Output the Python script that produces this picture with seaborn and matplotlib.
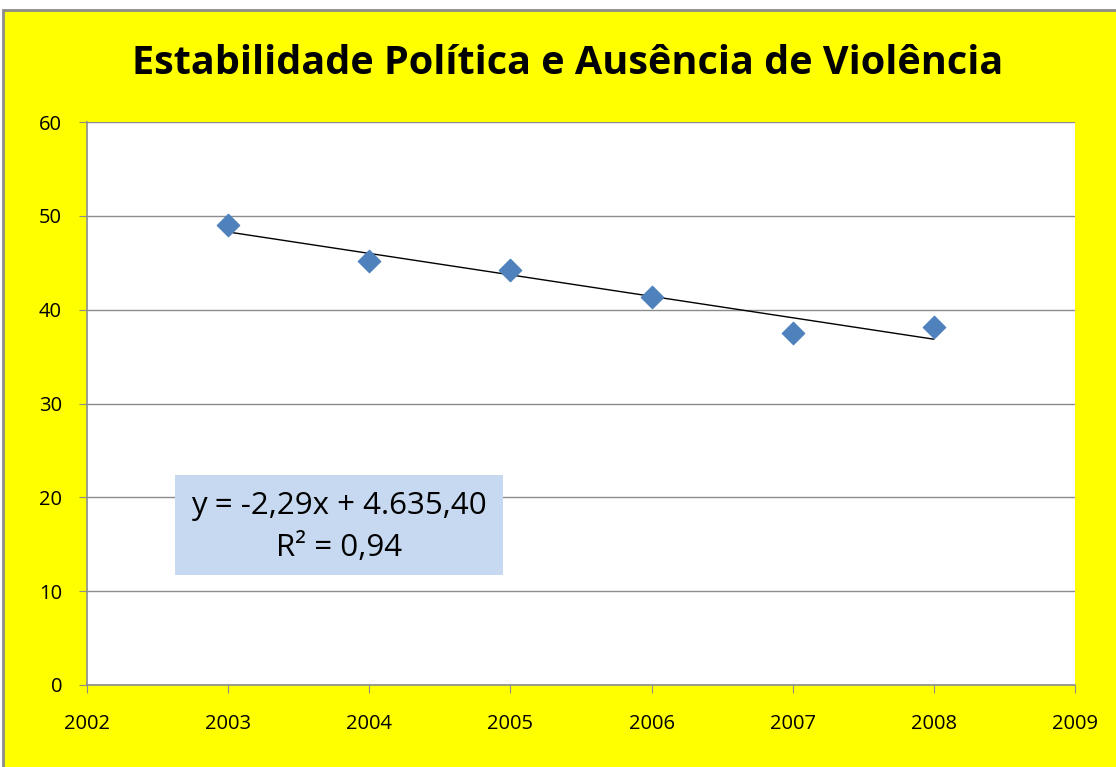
import matplotlib
matplotlib.use("Agg")
import matplotlib.pyplot as plt
import matplotlib.patches as mpatches
import pandas as pd
import seaborn as sns

years = [2003, 2004, 2005, 2006, 2007, 2008]
values = [49.0, 45.2, 44.2, 41.3, 37.5, 38.2]
title = "Estabilidade Política e Ausência de Violência"
eq_line1 = "y = -2,29x + 4.635,40"
eq_line2 = "R² = 0,94"

df = pd.DataFrame({"ano": years, "valor": values})

sns.set_style("white")
plt.rcParams["font.family"] = ["Open Sans", "DejaVu Sans"]
plt.rcParams["text.color"] = "black"
plt.rcParams["xtick.color"] = "black"
plt.rcParams["ytick.color"] = "black"

fig = plt.figure(figsize=(11.16, 7.67), dpi=100)
fig.patch.set_facecolor("white")

# yellow chart area with grey frame (cut at right and bottom like the source)
fig.patches.append(mpatches.Rectangle(
    (3 / 1116, -0.02), 1.2, 1.02 - 10 / 767,
    transform=fig.transFigure, facecolor="#FFFF00",
    edgecolor="#8C8C8C", linewidth=2, zorder=-10
))

ax = fig.add_axes([87 / 1116, 1 - 685 / 767, 988 / 1116, 563 / 767])
ax.set_zorder(1)
ax.set_facecolor("white")

sns.regplot(
    x="ano", y="valor", data=df, ax=ax, scatter=False, ci=None,
    truncate=True, line_kws={"color": "black", "linewidth": 1.0, "zorder": 2}
)
sns.scatterplot(
    x="ano", y="valor", data=df, ax=ax, marker="D", s=130,
    color="#4F81BD", edgecolor="#4F81BD", zorder=3
)

ax.set_xlim(2002, 2009)
ax.set_ylim(0, 60)
ax.set_xticks(range(2002, 2010))
ax.set_yticks(range(0, 61, 10))
ax.set_xlabel("")
ax.set_ylabel("")
ax.yaxis.grid(True, color="#8C8C8C", linewidth=1)
ax.set_axisbelow(True)
for s in ["top", "right"]:
    ax.spines[s].set_visible(False)
for s in ["left", "bottom"]:
    ax.spines[s].set_color("#8C8C8C")
    ax.spines[s].set_linewidth(1.2)
ax.tick_params(axis="x", direction="out", length=6, color="#8C8C8C",
               labelcolor="black", labelsize=14.5, pad=15)
ax.tick_params(axis="y", direction="out", length=6, color="#8C8C8C",
               labelcolor="black", labelsize=14.5, pad=12)
ax.tick_params(left=True, bottom=True)

# equation box
ax.add_patch(mpatches.Rectangle(
    (0.089, 0.195), 0.332, 0.178, transform=ax.transAxes,
    facecolor="#C6D9F1", edgecolor="none", zorder=4
))
ax.text(0.255, 0.318, eq_line1, transform=ax.transAxes, ha="center",
        va="center", fontsize=22.5, zorder=5)
ax.text(0.255, 0.243, eq_line2, transform=ax.transAxes, ha="center",
        va="center", fontsize=22.5, zorder=5)

fig.text(0.509, 1 - 63 / 767, title, ha="center", va="center",
         fontsize=28.5, fontweight="bold", color="black")

fig.savefig("out.png", dpi=100)
